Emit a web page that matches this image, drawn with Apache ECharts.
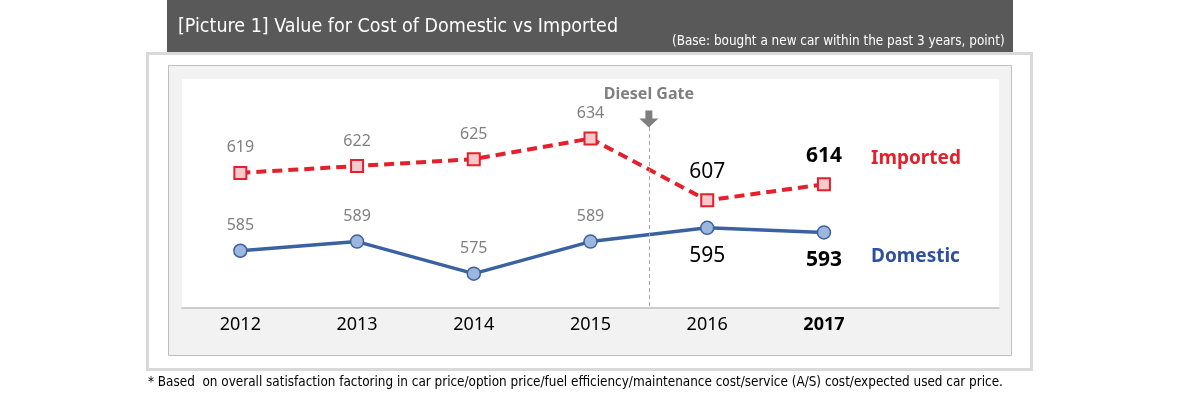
<!DOCTYPE html>
<html>
<head>
<meta charset="utf-8">
<script src="https://cdn.jsdelivr.net/npm/echarts@6/dist/echarts.min.js"></script>
<style>
  html, body {margin: 0; padding: 0; background: #fff;}
  #chart {width: 1180px; height: 396px;}
</style>
</head>
<body>
<div id="chart"></div>
<script>
const years = ['2012', '2013', '2014', '2015', '2016', '2017', ''];
const imported = [619, 622, 625, 634, 607, 614];
const domestic = [585, 589, 575, 589, 595, 593];
const dieselGateAt = 3.5;   // between 2015 and 2016

const titleText = '[Picture 1] Value for Cost of Domestic vs Imported';
const baseText = '(Base: bought a new car within the past 3 years, point)';
const noteText = '* Based  on overall satisfaction factoring in car price/option price/fuel efficiency/maintenance cost/service (A/S) cost/expected used car price.';

const narrow = '"Liberation Sans Narrow", "DejaVu Sans Condensed", sans-serif';
const sans = '"Noto Sans", "Open Sans", sans-serif';

// label style per point: old years grey, 2016 black, 2017 bold black
function pointLabel(i, pos) {
    if (i < 4) return {position: 'top', distance: 10, color: '#808080', fontSize: 16};
    return {position: pos, distance: pos === 'top' ? 11 : 10, color: '#000', fontSize: 21,
        fontWeight: i === 5 ? 'bold' : 'normal'};
}

let chart = echarts.init(document.getElementById('chart'));
chart.setOption({
    animation: false,
    textStyle: {fontFamily: sans},
    graphic: [
        {type: 'rect', shape: {x: 167, y: 0, width: 846, height: 53}, style: {fill: '#595959'}, z: -10},
        {type: 'rect', shape: {x: 147.5, y: 53.5, width: 884, height: 316}, style: {fill: '#fff', stroke: '#d9d9d9', lineWidth: 3}, z: -9},
        {type: 'rect', shape: {x: 168.5, y: 65.5, width: 843, height: 290}, style: {fill: '#f2f2f2', stroke: '#bfbfbf', lineWidth: 1}, z: -8},
        {type: 'text', left: 178, top: 17, style: {text: titleText, fill: '#fff', font: '19.5px ' + narrow}, z: 5},
        {type: 'text', left: 672, top: 35, style: {text: baseText, fill: '#fff', font: '13.4px ' + narrow}, z: 5},
        {type: 'text', left: 148, top: 376, style: {text: noteText, fill: '#000', font: '13.4px ' + narrow}, z: 5},
        {type: 'text', left: 871, top: 149, style: {text: 'Imported', fill: '#e3202b', font: 'bold 19px ' + sans}, z: 5},
        {type: 'text', left: 871, top: 247, style: {text: 'Domestic', fill: '#2f4f9f', font: 'bold 19px ' + sans}, z: 5}
    ],
    grid: {left: 182, top: 79, width: 817, height: 229, show: true, backgroundColor: '#fff', borderWidth: 0},
    xAxis: [
        {
            type: 'category',
            data: years,
            axisLine: {lineStyle: {color: '#bfbfbf', width: 1.5}},
            axisTick: {show: false},
            axisLabel: {
                margin: 8, fontSize: 18, color: '#000',
                formatter: v => v === '2017' ? '{b|' + v + '}' : v,
                rich: {b: {fontWeight: 'bold', fontSize: 18, color: '#000'}}
            }
        },
        {type: 'value', min: -0.5, max: 6.5, show: false}
    ],
    yAxis: {type: 'value', min: 560, max: 660, show: false},
    series: [
        {
            name: 'Imported', type: 'line',
            data: imported.map((v, i) => ({value: v, label: pointLabel(i, 'top')})),
            symbol: 'rect', symbolSize: 12,
            lineStyle: {color: '#e3202b', width: 4, type: [10, 6]},
            itemStyle: {color: '#f8c9cb', borderColor: '#e3202b', borderWidth: 2},
            label: {show: true},
            z: 3
        },
        {
            name: 'Domestic', type: 'line',
            data: domestic.map((v, i) => ({value: v, label: pointLabel(i, 'bottom')})),
            symbol: 'circle', symbolSize: 13,
            lineStyle: {color: '#3a62a0', width: 3.5},
            itemStyle: {color: '#9db6dd', borderColor: '#3a62a0', borderWidth: 1.5},
            label: {show: true},
            z: 3
        },
        {
            name: 'Diesel Gate', type: 'line', xAxisIndex: 1, data: [],
            markLine: {
                silent: true, symbol: 'none',
                lineStyle: {color: '#a6a6a6', width: 1, type: [4, 3]},
                label: {show: false},
                data: [[{coord: [dieselGateAt, 639]}, {coord: [dieselGateAt, 560]}]]
            },
            markPoint: {
                silent: true,
                symbol: 'path://M6,0 L13,0 L13,8 L19,8 L9.5,17 L0,8 L6,8 Z',
                symbolSize: [19, 17],
                itemStyle: {color: '#7f7f7f'},
                label: {show: true, position: 'top', distance: 8, formatter: 'Diesel Gate',
                    color: '#7f7f7f', fontWeight: 'bold', fontSize: 16},
                data: [{coord: [dieselGateAt, 642.5]}]
            }
        }
    ]
});
</script>
</body>
</html>
